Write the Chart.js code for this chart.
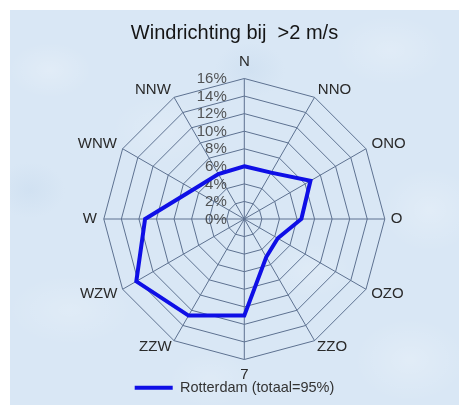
<!DOCTYPE html>
<html>
<head>
<meta charset="utf-8">
<script src="https://cdn.jsdelivr.net/npm/chart.js@4/dist/chart.umd.min.js"></script>
<style>
  html, body { margin: 0; padding: 0; background: #ffffff; }
  #frame {
    position: absolute; left: 10px; top: 10px; width: 449px; height: 395px;
    background-color: #d9e7f5;
    background-image:
      radial-gradient(ellipse 60px 40px at 40px 60px, rgba(255,255,255,0.22), rgba(255,255,255,0) 70%),
      radial-gradient(ellipse 80px 50px at 380px 40px, rgba(255,255,255,0.20), rgba(255,255,255,0) 70%),
      radial-gradient(ellipse 70px 60px at 420px 200px, rgba(255,255,255,0.22), rgba(255,255,255,0) 70%),
      radial-gradient(ellipse 90px 50px at 60px 300px, rgba(255,255,255,0.18), rgba(255,255,255,0) 70%),
      radial-gradient(ellipse 80px 60px at 400px 350px, rgba(255,255,255,0.22), rgba(255,255,255,0) 70%),
      radial-gradient(ellipse 60px 40px at 200px 370px, rgba(255,255,255,0.15), rgba(255,255,255,0) 70%),
      radial-gradient(ellipse 70px 50px at 150px 120px, rgba(255,255,255,0.15), rgba(255,255,255,0) 70%),
      radial-gradient(ellipse 60px 40px at 300px 260px, rgba(255,255,255,0.15), rgba(255,255,255,0) 70%),
      radial-gradient(ellipse 50px 40px at 240px 60px, rgba(185,208,232,0.25), rgba(185,208,232,0) 70%),
      radial-gradient(ellipse 50px 40px at 20px 180px, rgba(185,208,232,0.25), rgba(185,208,232,0) 70%);
  }
  #wrap { position: absolute; left: 10px; top: 10px; width: 449px; height: 395px; }
</style>
</head>
<body>
<div id="frame"></div>
<div id="wrap"><canvas id="c" width="449" height="395"></canvas></div>
<script>
// ---- data ----
const directions = ['N', 'NNO', 'ONO', 'O', 'OZO', 'ZZO', '7', 'ZZW', 'WZW', 'W', 'WNW', 'NNW'];
const rotterdam = [6.0, 6.1, 8.7, 6.5, 4.4, 5.0, 11.0, 12.7, 14.2, 11.3, 6.7, 5.9];
const seriesName = 'Rotterdam (totaal=95%)';
const titleText = 'Windrichting bij  >2 m/s';
const tickMin = 0, tickMax = 16, tickStep = 2;
const tickSuffix = '%';

// ---- layout constants (not data) ----
const CX = 234.3, CY = 209, R = 140.5;
const labelPadding = [15, 6.5, 6.5, 6, 6, 5, 13.5, 5, 6, 7, 6.5, 6.5];
const FONT = '"Liberation Sans", Arial, Helvetica, sans-serif';

const fixCenter = {
  id: 'fixCenter',
  beforeLayout(chart) {
    const s = chart.scales.r;
    if (s && !s._fixedCenter) {
      s._fixedCenter = true;
      s.setCenterPoint = function () {
        this.xCenter = CX; this.yCenter = CY; this.drawingArea = R;
      };
    }
  }
};

const tickLabels = {
  id: 'tickLabels',
  beforeDatasetsDraw(chart) {
    const s = chart.scales.r;
    const ctx = chart.ctx;
    ctx.save();
    ctx.font = '15px ' + FONT;
    ctx.textAlign = 'right';
    ctx.textBaseline = 'middle';
    ctx.fillStyle = 'rgba(55,55,55,0.85)';
    s.ticks.forEach(t => {
      const d = s.getDistanceFromCenterForValue(t.value);
      ctx.fillText(t.value + tickSuffix, s.xCenter - 17.5, s.yCenter - d + 0.5);
    });
    ctx.restore();
  }
};

new Chart(document.getElementById('c'), {
  type: 'radar',
  data: {
    labels: directions,
    datasets: [{
      label: seriesName,
      data: rotterdam,
      borderColor: '#0f0fe6',
      backgroundColor: 'rgba(0,0,0,0)',
      borderWidth: 4,
      fill: false,
      pointRadius: 0,
      pointHoverRadius: 0,
      borderJoinStyle: 'miter',
      pointStyle: 'line'
    }]
  },
  options: {
    responsive: false,
    animation: false,
    devicePixelRatio: 1,
    layout: { padding: 0 },
    plugins: {
      title: {
        display: true,
        text: titleText,
        color: '#151515',
        font: { family: FONT, size: 20, weight: 'normal' },
        padding: { top: 11, bottom: 4 }
      },
      legend: {
        display: true,
        position: 'bottom',
        labels: {
          usePointStyle: true,
          pointStyle: 'line',
          pointStyleWidth: 38,
          boxWidth: 38,
          padding: 5,
          color: '#333',
          font: { family: FONT, size: 14.5 }
        }
      },
      tooltip: { enabled: false }
    },
    scales: {
      r: {
        min: tickMin,
        max: tickMax,
        ticks: {
          stepSize: tickStep,
          display: false,
          callback: v => v + tickSuffix
        },
        grid: { color: '#5d7190', lineWidth: 1, circular: false },
        angleLines: { color: '#5d7190', lineWidth: 1 },
        pointLabels: {
          color: '#2a2a2a',
          font: { family: FONT, size: 15, lineHeight: 0.2 },
          padding: ctx => labelPadding[ctx.index]
        }
      }
    }
  },
  plugins: [fixCenter, tickLabels]
});
</script>
</body>
</html>
